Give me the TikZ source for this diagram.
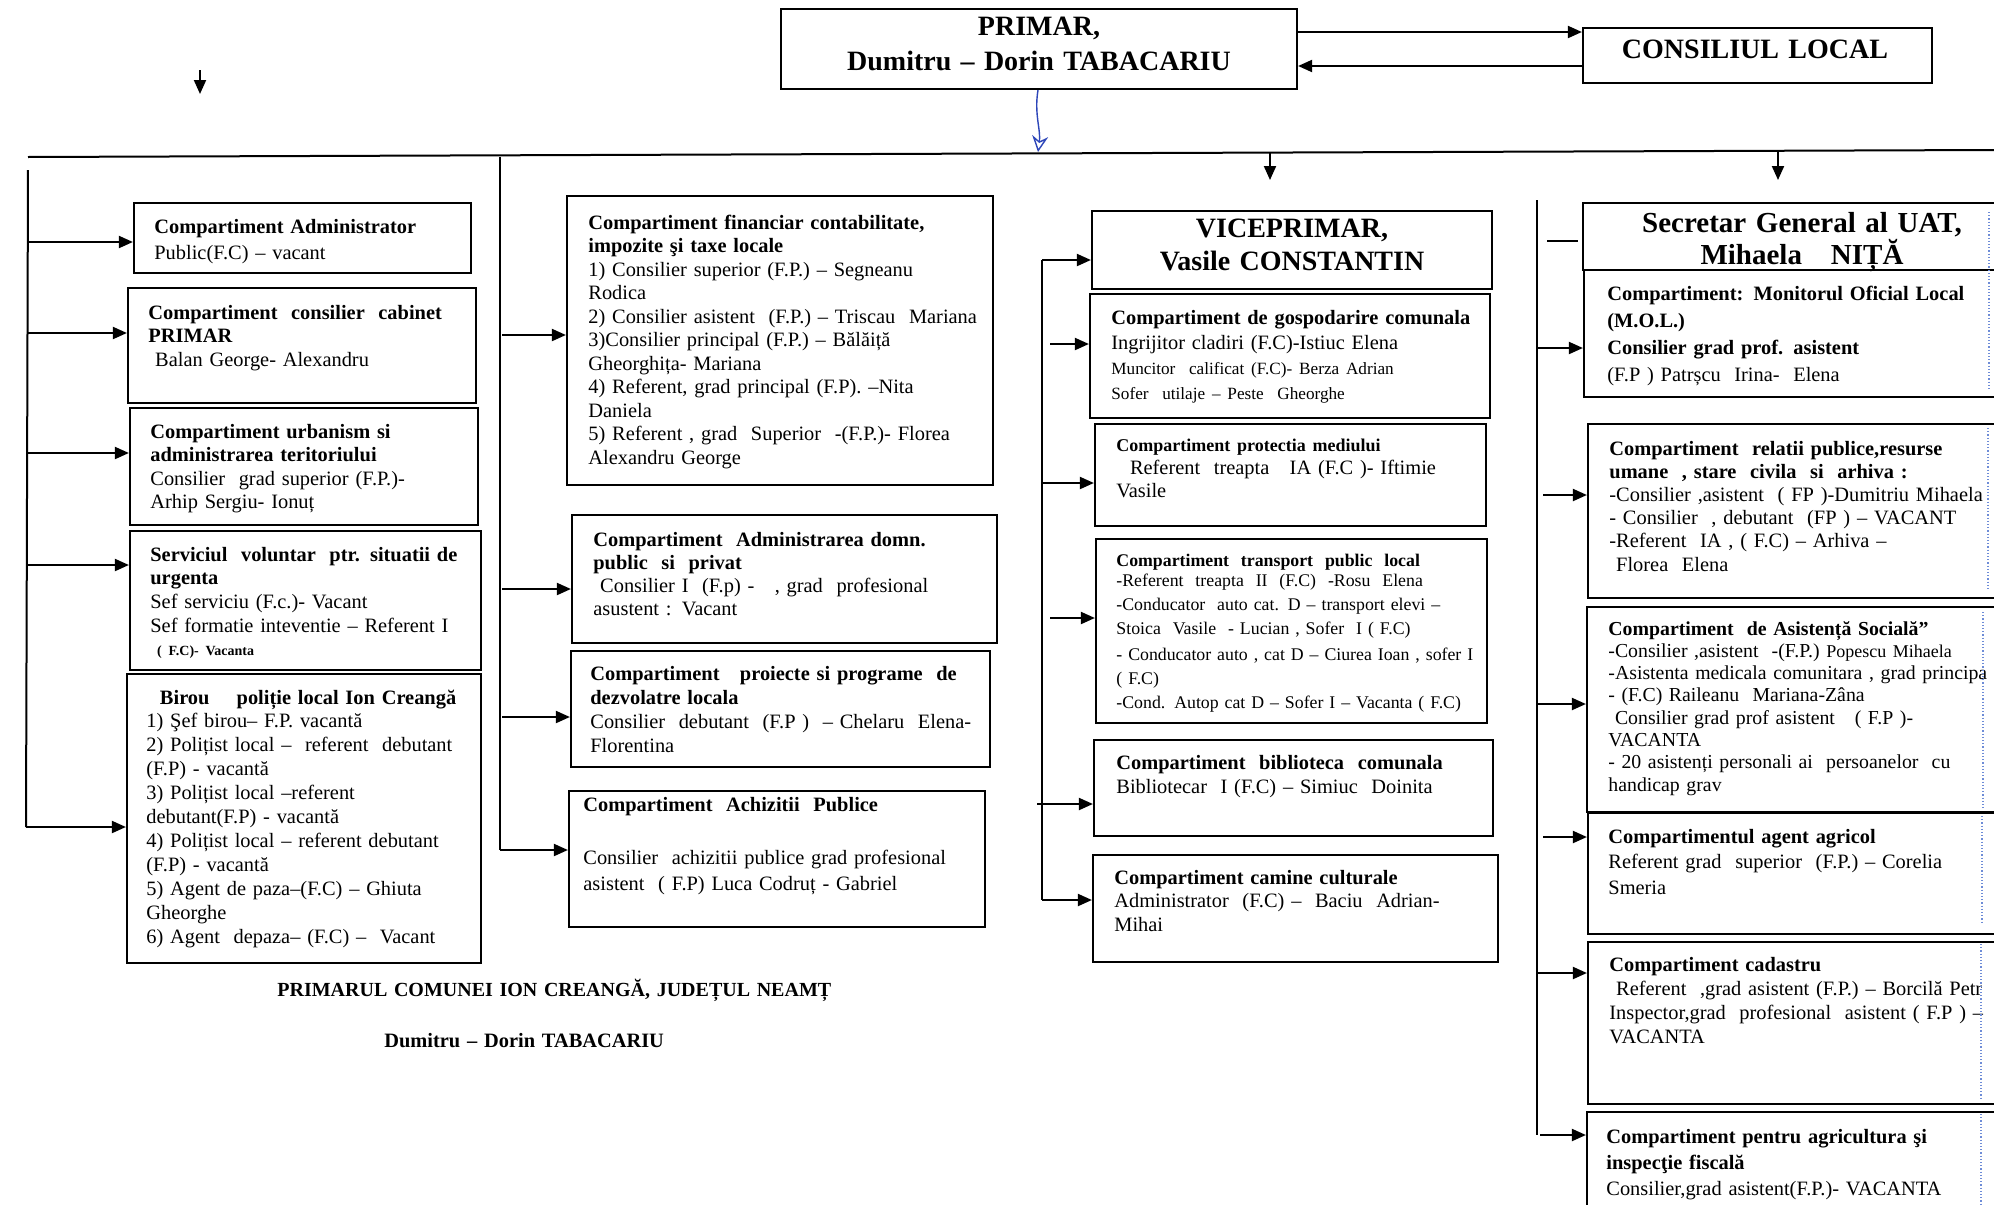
\documentclass[tikz,border=0pt]{standalone}
\usepackage{fontspec}
\setmainfont{Liberation Serif}
\usetikzlibrary{arrows.meta,fit,calc}
\definecolor{handblue}{RGB}{45,70,185}
\definecolor{lightblue}{RGB}{110,140,215}
\newcommand{\fs}[2]{\fontsize{#1}{#2}\selectfont}
\tikzset{
 boxst/.style={draw, line width=1.1pt, inner sep=0pt},
 txt/.style={anchor=base west, inner sep=0pt, align=left, text width=262pt},
 ttl/.style={anchor=base, inner sep=0pt, align=center},
 ln/.style={line width=1pt},
 arr/.style={line width=1pt, -{Triangle[length=7pt,width=6pt]}},
 hand/.style={draw=handblue, line width=0.7pt},
 edgeblue/.style={draw=lightblue, line width=0.6pt, densely dotted},
}
\begin{document}
\begin{tikzpicture}[x=0.5pt,y=-0.5pt]
\useasboundingbox (0,0) rectangle (1994,1205);
\fill[white] (0,0) rectangle (1994,1205);

% ---------- top ----------
\node[boxst, fit={(781,9) (1297,89)}] (primar) {};
\node[ttl, text width=250pt, font=\bfseries\fs{14}{17.5}] (primar-t) at (1039,35) {PRIMAR,\\ Dumitru – Dorin TABACARIU};
\node[boxst, fit={(1583,28) (1932,83)}] (consiliul) {};
\node[ttl, text width=170pt, font=\bfseries\fs{14}{17}] (consiliul-t) at (1755,58) {CONSILIUL LOCAL};
\coordinate (y32) at (0,32);
\coordinate (y66) at (0,66);
\draw[arr] (primar.east |- y32) -- (consiliul.west |- y32);
\draw[arr] (consiliul.west |- y66) -- (primar.east |- y66);

\coordinate (tl1) at (200,70);
\coordinate (tl2) at (200,94);
\draw[arr] (tl1) -- (tl2);

% main horizontal line
\coordinate (hl) at (28,157);
\coordinate (hr) at (1994,150);
\draw[ln] (hl) -- (hr);

% hand-drawn blue arrow
\coordinate (bx) at (1038,152);
\draw[hand, -{Stealth[open,length=8pt,width=8pt]}] (primar.south -| bx) .. controls (1034,114) and (1041,130) .. (bx);

% down arrows to columns 3 and 4
\coordinate (d3a) at (1270,153);
\coordinate (d3b) at (1270,180);
\draw[arr] (d3a) -- (d3b);
\coordinate (d4a) at (1778,151);
\coordinate (d4b) at (1778,180);
\draw[arr] (d4a) -- (d4b);

% ---------- column 1 ----------
\node[boxst, fit={(134,203) (471,273)}] (c1a) {};
\node[txt, font=\fs{10.2}{13}] (c1a-t) at (154,233) {\textbf{Compartiment Administrator}\\ Public(F.C) – vacant};

\node[boxst, fit={(128,288) (476,403)}] (c1b) {};
\node[txt, font=\fs{10.2}{11.75}] (c1b-t) at (148,319) {\textbf{Compartiment\ \ consilier\ \ cabinet}\\ \textbf{PRIMAR}\\ \ Balan George- Alexandru};

\node[boxst, fit={(130,408) (478,525)}] (c1c) {};
\node[txt, font=\fs{10.2}{11.75}] (c1c-t) at (150,438) {\textbf{Compartiment urbanism si}\\ \textbf{administrarea teritoriului}\\ Consilier\ \ grad superior (F.P.)-\\ Arhip Sergiu- Ionuț};

\node[boxst, fit={(130,531) (481,670)}] (c1d) {};
\node[txt, font=\fs{10.2}{11.85}] (c1d-t) at (150,561) {\textbf{Serviciul\ \ voluntar\ \ ptr. situatii de}\\ \textbf{urgenta}\\ Sef serviciu (F.c.)- Vacant\\ Sef formatie inteventie – Referent I\\ {\fs{7}{8}\bfseries\ ( F.C)- Vacanta}};

\node[boxst, fit={(127,674) (481,963)}] (c1e) {};
\node[txt, font=\fs{10.2}{11.95}] (c1e-t) at (146,704) {\ \ \textbf{Birou\quad\ poliție local Ion Creangă}\\ 1) Şef birou– F.P. vacantă\\ 2) Polițist local –\ \ referent\ \ debutant\\ (F.P) - vacantă\\ 3) Polițist local –referent\\ debutant(F.P) - vacantă\\ 4) Polițist local – referent debutant\\ (F.P) - vacantă\\ 5) Agent de paza–(F.C) – Ghiuta\\ Gheorghe\\ 6) Agent\ \ depaza– (F.C) –\ \ Vacant};

\coordinate (v1t) at (28,170);
\coordinate (v1b) at (26,827);
\draw[ln] (v1t) -- (v1b);
\foreach \n/\yy in {c1a/242, c1b/333, c1c/453, c1d/565} {
  \coordinate (a-\n) at (28,\yy);
  \draw[arr] (a-\n) -- (a-\n -| \n.west);
}
\draw[arr] (v1b) -- (v1b -| c1e.west);

% ---------- column 2 ----------
\node[boxst, fit={(567,196) (993,485)}] (c2a) {};
\node[txt, font=\fs{10.2}{11.75}] (c2a-t) at (588,229) {\textbf{Compartiment financiar contabilitate,}\\ \textbf{impozite şi taxe locale}\\ 1) Consilier superior (F.P.) – Segneanu\\ Rodica\\ 2) Consilier asistent\ \ (F.P.) – Triscau\ \ Mariana\\ 3)Consilier principal (F.P.) – Bălăiță\\ Gheorghița- Mariana\\ 4) Referent, grad principal (F.P). –Nita\\ Daniela\\ 5) Referent , grad\ \ Superior\ \ -(F.P.)- Florea\\ Alexandru George};

\node[boxst, fit={(572,515) (997,643)}] (c2b) {};
\node[txt, font=\fs{10.2}{11.65}] (c2b-t) at (593,546) {\textbf{Compartiment\ \ Administrarea domn.}\\ \textbf{public\ \ si\ \ privat}\\ \ Consilier I\ \ (F.p) -\ \ \ , grad\ \ profesional\\ asustent : Vacant};

\node[boxst, fit={(571,651) (990,767)}] (c2c) {};
\node[txt, font=\fs{10.2}{12}] (c2c-t) at (590,680) {\textbf{Compartiment\ \ \ proiecte si programe\ \ de}\\ \textbf{dezvolatre locala}\\ Consilier\ \ debutant\ \ (F.P )\ \ – Chelaru\ \ Elena-\\ Florentina};

\node[boxst, fit={(569,791) (985,927)}] (c2d) {};
\node[txt, font=\fs{10.2}{13.25}] (c2d-t) at (583,811) {\textbf{Compartiment\ \ Achizitii\ \ Publice}\\ \mbox{}\\ Consilier\ \ achizitii publice grad profesional\\ asistent\ \ ( F.P) Luca Codruț - Gabriel};

\coordinate (v2t) at (500,157);
\coordinate (v2b) at (500,850);
\draw[ln] (v2t) -- (v2b);
\foreach \n/\yy in {c2a/335, c2b/589, c2c/717} {
  \coordinate (a-\n) at (502,\yy);
  \draw[arr] (a-\n) -- (a-\n -| \n.west);
}
\draw[arr] (v2b) -- (v2b -| c2d.west);

% ---------- column 3 ----------
\node[boxst, fit={(1092,211) (1492,289)}] (vice) {};
\node[ttl, text width=190pt, font=\bfseries\fs{14}{16.5}] (vice-t) at (1292,237) {VICEPRIMAR,\\ Vasile CONSTANTIN};

\node[boxst, fit={(1090,294) (1490,418)}] (c3a) {};
\node[txt, font=\fs{10.2}{12.5}] (c3a-t) at (1111,324) {\textbf{Compartiment de gospodarire comunala}\\ Ingrijitor cladiri (F.C)-Istiuc Elena\\ {\fs{8.6}{10}Muncitor\ \ calificat (F.C)- Berza Adrian}\\ {\fs{8.6}{10}Sofer\ \ utilaje – Peste\ \ Gheorghe}};

\node[boxst, fit={(1095,424) (1486,526)}] (c3b) {};
\node[txt, font=\fs{10.2}{11.5}] (c3b-t) at (1116,451) {{\fs{9}{10}\bfseries Compartiment protectia mediului}\\ \ \ Referent\ \ treapta\ \ \ IA (F.C )- Iftimie\\ Vasile};

\node[boxst, fit={(1096,539) (1487,723)}] (c3c) {};
\node[txt, font=\fs{8.9}{12}] (c3c-t) at (1116,566) {\textbf{Compartiment\ \ transport\ \ public\ \ local}\\[-2pt] -Referent\ \ treapta\ \ II\ \ (F.C)\ \ -Rosu\ \ Elena\\ -Conducator\ \ auto cat. D – transport elevi –\\ Stoica\ \ Vasile\ \ - Lucian , Sofer\ \ I ( F.C)\\[1pt] - Conducator auto , cat D – Ciurea Ioan , sofer I\\ ( F.C)\\ -Cond. Autop cat D – Sofer I – Vacanta ( F.C)};

\node[boxst, fit={(1094,740) (1493,836)}] (c3d) {};
\node[txt, font=\fs{10.2}{12}] (c3d-t) at (1116,769) {\textbf{Compartiment\ \ biblioteca\ \ comunala}\\ Bibliotecar\ \ I (F.C) – Simiuc\ \ Doinita};

\node[boxst, fit={(1093,855) (1498,962)}] (c3e) {};
\node[txt, font=\fs{10.2}{11.75}] (c3e-t) at (1114,884) {\textbf{Compartiment camine culturale}\\ Administrator\ \ (F.C) –\ \ Baciu\ \ Adrian-\\ Mihai};

\coordinate (v3t) at (1042,260);
\coordinate (v3b) at (1042,900);
\draw[ln] (v3t) -- (v3b);
\draw[arr] (v3t) -- (v3t -| vice.west);
\coordinate (a-c3a) at (1050,344);
\draw[arr] (a-c3a) -- (a-c3a -| c3a.west);
\coordinate (a-c3b) at (1042,483);
\draw[arr] (a-c3b) -- (a-c3b -| c3b.west);
\coordinate (a-c3c) at (1050,618);
\draw[arr] (a-c3c) -- (a-c3c -| c3c.west);
\coordinate (a-c3d) at (1037,804);
\draw[arr] (a-c3d) -- (a-c3d -| c3d.west);
\draw[arr] (v3b) -- (v3b -| c3e.west);

% ---------- column 4 ----------
\node[boxst, fit={(1583,203) (2030,270)}] (sec) {};
\node[ttl, text width=220pt, font=\bfseries\fs{14.5}{16}] (sec-t) at (1802,232) {Secretar General al UAT,\\ Mihaela\ \ \ NIȚĂ};

\node[boxst, fit={(1584,270) (2030,397)}] (c4a) {};
\node[txt, font=\fs{10.2}{13.5}] (c4a-t) at (1607,300) {\textbf{Compartiment: Monitorul Oficial Local}\\ \textbf{(M.O.L.)}\\ \textbf{Consilier grad prof. asistent}\\ (F.P ) Patrșcu\ \ Irina-\ \ Elena};

\node[boxst, fit={(1588,424) (2030,598)}] (c4b) {};
\node[txt, font=\fs{10.2}{11.6}] (c4b-t) at (1609,455) {\textbf{Compartiment\ \ relatii publice,resurse}\\ \textbf{umane\ \ , stare\ \ civila\ \ si\ \ arhiva :}\\ -Consilier\ ,asistent\ \ ( FP )-Dumitriu Mihaela\\ - Consilier\ \ , debutant\ \ (FP ) – VACANT\\ -Referent\ \ IA , ( F.C) – Arhiva –\\ \ Florea\ \ Elena};

\node[boxst, fit={(1587,607) (2030,812)}] (c4c) {};
\node[txt, font=\fs{9.9}{11.15}] (c4c-t) at (1608,635) {\textbf{Compartiment\ \ de Asistență Socială”}\\ -Consilier ,asistent\ \ -(F.P.) {\fs{9}{10}Popescu Mihaela}\\ -Asistenta\ medicala comunitara ,\ grad\ principa\\ - (F.C) Raileanu\ \ Mariana-Zâna\\ \ Consilier grad prof asistent\ \ \ ( F.P )-\\ VACANTA\\ - 20 asistenți personali ai\ \ persoanelor\ \ cu\\ handicap grav};

\node[boxst, fit={(1588,813) (2030,934)}] (c4d) {};
\node[txt, font=\fs{10.2}{12.75}] (c4d-t) at (1608,843) {\textbf{Compartimentul agent agricol}\\ Referent grad\ \ superior\ \ (F.P.) – Corelia\\ Smeria};

\node[boxst, fit={(1588,942) (2030,1104)}] (c4e) {};
\node[txt, font=\fs{10.2}{12}] (c4e-t) at (1609,971) {\textbf{Compartiment cadastru}\\ \ Referent\ \ ,grad asistent (F.P.) – Borcilă Petr\\ Inspector,grad\ \ profesional\ \ asistent ( F.P ) –\\ VACANTA};

\node[boxst, fit={(1587,1112) (2030,1240)}] (c4f) {};
\node[txt, font=\fs{10.2}{13}] (c4f-t) at (1606,1143) {\textbf{Compartiment pentru agricultura şi}\\ \textbf{inspecţie fiscală}\\ Consilier,grad asistent(F.P.)- VACANTA};

\coordinate (v4t) at (1537,200);
\coordinate (v4b) at (1537,1135);
\draw[ln] (v4t) -- (v4b);
\coordinate (s1) at (1547,241);
\coordinate (s2) at (1578,241);
\draw[ln] (s1) -- (s2);
\coordinate (a-c4a) at (1537,348);
\draw[arr] (a-c4a) -- (a-c4a -| c4a.west);
\coordinate (a-c4b) at (1543,495);
\draw[arr] (a-c4b) -- (a-c4b -| c4b.west);
\coordinate (a-c4c) at (1537,704);
\draw[arr] (a-c4c) -- (a-c4c -| c4c.west);
\coordinate (a-c4d) at (1543,837);
\draw[arr] (a-c4d) -- (a-c4d -| c4d.west);
\coordinate (a-c4e) at (1537,973);
\draw[arr] (a-c4e) -- (a-c4e -| c4e.west);
\coordinate (a-c4f) at (1540,1135);
\draw[arr] (a-c4f) -- (a-c4f -| c4f.west);

% hand-drawn blue edges at right
\draw[edgeblue] (1989,212) -- (1989,390);
\draw[edgeblue] (1988,428) -- (1988,590);
\draw[edgeblue] (1983,612) -- (1983,808);
\draw[edgeblue] (1982,816) -- (1982,924);
\draw[edgeblue] (1981,944) -- (1981,1098);
\draw[edgeblue] (1981,1114) -- (1981,1205);

% ---------- footer ----------
\node[txt, text width=330pt, font=\bfseries\fs{10}{12}] (f1) at (277,996) {PRIMARUL COMUNEI ION CREANGĂ, JUDEȚUL NEAMȚ};
\node[txt, text width=200pt, font=\bfseries\fs{10.2}{12}] (f2) at (384,1047) {Dumitru – Dorin TABACARIU};
\end{tikzpicture}
\end{document}
